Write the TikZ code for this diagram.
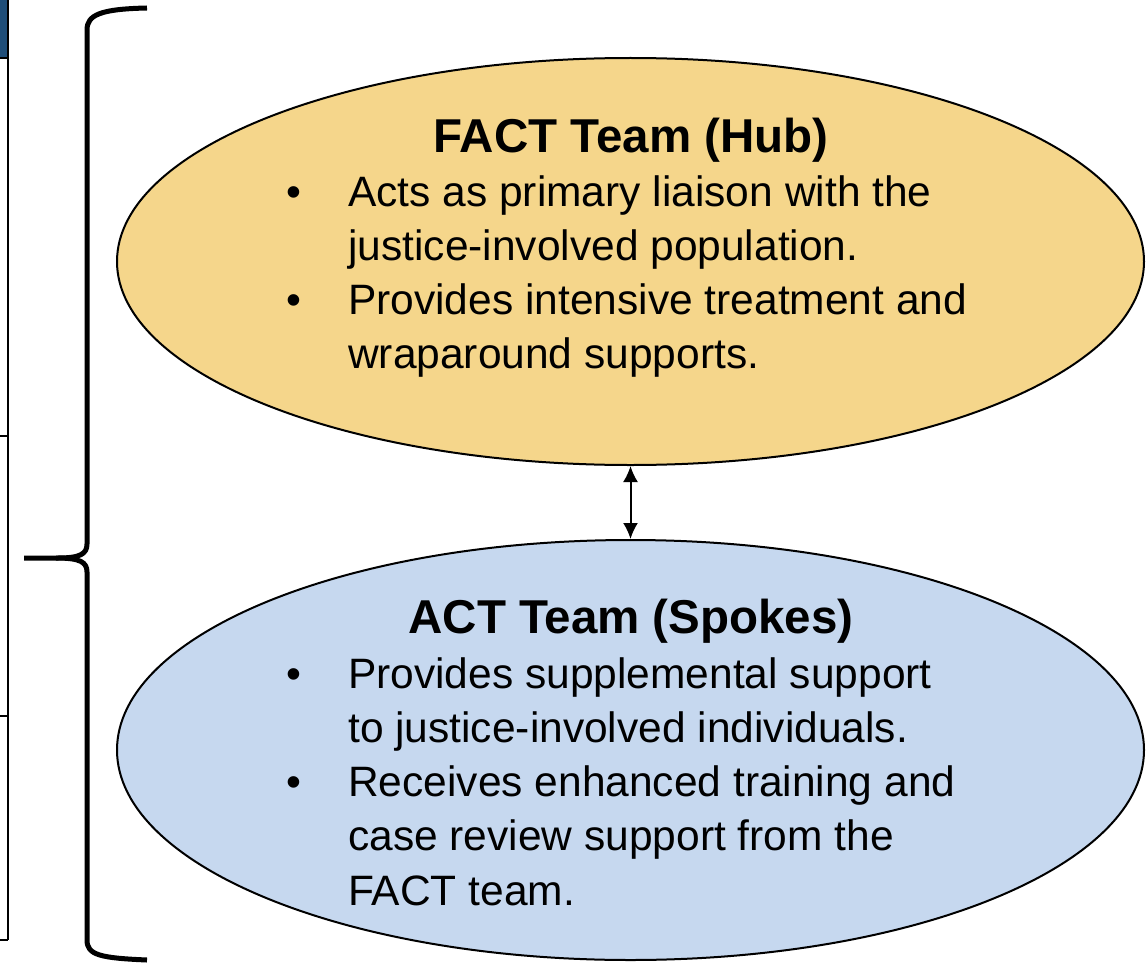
\documentclass[tikz,border=0pt]{standalone}
\usepackage{fontspec}
\setmainfont{Liberation Sans}
\usepackage{xcolor}
\usetikzlibrary{shapes.geometric,arrows.meta,positioning}
\definecolor{hubfill}{HTML}{F5D68B}
\definecolor{spokefill}{HTML}{C6D8EF}
\definecolor{tablehead}{HTML}{1F4E79}
\tikzstyle{team}=  [draw,
ellipse,
line width=2pt,
inner sep=0,
minimum width=1027pt,
]
\tikzstyle{heading}=  [font=\fontsize{47.5}{55}\selectfont\bfseries,
inner sep=0,
anchor=base,
]
\tikzstyle{bullets}=  [font=\fontsize{42.5}{54.3}\selectfont,
inner sep=0,
anchor=base west,
]
\newcommand{\bul}{\textbullet}

\begin{document}
\begin{tikzpicture}[x=1pt,y=-1pt,line join=round]
        \useasboundingbox (0,0) rectangle (1148,963);
        % table edge on the left
        \fill[tablehead] (0,0) rectangle (7,58);
        \draw[line width=1.5pt] (8,0) -- (8,940)
        (0,58) -- (8,58) (0,436) -- (8,436) (0,716) -- (8,716) (0,940) -- (8,940);
        % brace
        \draw[line width=5pt,line cap=butt] (24,558) -- (58,558)
        .. controls (80,558) and (87,554) .. (87,544) -- (87,30)
        .. controls (87,15) and (100,9) .. (147,8);
        \draw[line width=5pt,line cap=butt] (56,558)
        .. controls (80,558) and (87,562) .. (87,572) -- (87,940)
        .. controls (87,955) and (100,958) .. (147,960);

        \node[team, fill=hubfill, minimum height=407pt] (hub) at (630.5,261.5) {};
        \node[team, fill=spokefill, minimum height=420pt] (spokes) at (630.5,750) {};

        \node[heading] (hubtitle) at (631,152) {FACT Team (Hub)};
        \node[bullets] (hubtext) at (286,206) {\begin{tabular}[t]{@{}p{62pt}@{}l@{}}
        \bul & Acts as primary liaison with the\\
             & justice-involved population.\\
        \bul & Provides intensive treatment and\\
             & wraparound supports.
        \end{tabular}};

        \node[heading] (spoketitle) at (631,633) {ACT Team (Spokes)};
        \node[bullets] (spoketext) at (286,688) {\begin{tabular}[t]{@{}p{62pt}@{}l@{}}
        \bul & Provides supplemental support\\
             & to justice-involved individuals.\\
        \bul & Receives enhanced training and\\
             & case review support from the\\
             & FACT team.
        \end{tabular}};

        \draw[{Latex[length=16pt,width=15pt]}-{Latex[length=16pt,width=15pt]},line width=2pt] (hub.south) -- (spokes.north);
    \end{tikzpicture}
\end{document}
